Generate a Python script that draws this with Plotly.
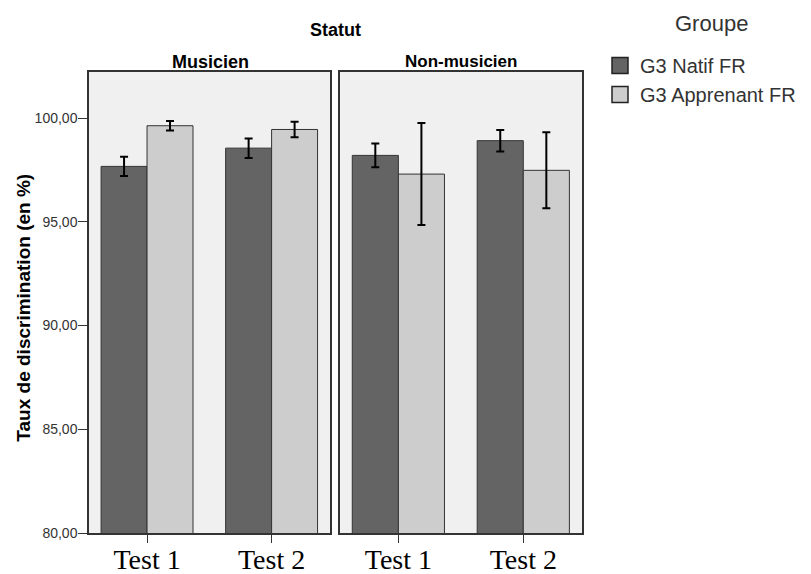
import plotly.graph_objects as go

tests = ["Test 1", "Test 2"]
groups = ["G3 Natif FR", "G3 Apprenant FR"]

musicien_natif = [97.67, 98.55]
musicien_natif_err = [0.46, 0.47]
musicien_appr = [99.63, 99.45]
musicien_appr_err = [0.23, 0.37]

nonmus_natif = [98.20, 98.91]
nonmus_natif_err = [0.57, 0.52]
nonmus_appr = [97.30, 97.48]
nonmus_appr_err = [2.46, 1.83]

y_ticks = [80, 85, 90, 95, 100]

dark = "#646464"
light = "#cdcdcd"
edge = "#333333"

# plot area in pixels (left, right, top, bottom) as in the original
L, R, T, B = 89, 581.7, 72.3, 533.3
W = R - L
H = B - T


def px_x(p):
    return (p - L) / W


def px_y(p):
    return (B - p) / H


def bar(y, err, color, xaxis, name):
    return go.Bar(
        x=tests,
        y=y,
        name=name,
        showlegend=False,
        xaxis=xaxis,
        yaxis="y" if xaxis == "x" else "y2",
        marker=dict(color=color, line=dict(color=edge, width=1)),
        error_y=dict(type="data", array=err, color="black", thickness=2, width=4),
    )


fig = go.Figure()
fig.add_trace(bar(musicien_natif, musicien_natif_err, dark, "x", groups[0]))
fig.add_trace(bar(musicien_appr, musicien_appr_err, light, "x", groups[1]))
fig.add_trace(bar(nonmus_natif, nonmus_natif_err, dark, "x2", groups[0]))
fig.add_trace(bar(nonmus_appr, nonmus_appr_err, light, "x2", groups[1]))

# legend proxies (bigger square symbols than the bar legend icon)
for name, color in zip(groups, [dark, light]):
    fig.add_trace(
        go.Scatter(
            x=[None],
            y=[None],
            mode="markers",
            name=name,
            marker=dict(symbol="square", size=16, color=color, line=dict(color="#222222", width=1.5)),
        )
    )

xcommon = dict(
    range=[-0.466, 1.47],
    showline=True,
    mirror=True,
    linecolor=edge,
    linewidth=1.5,
    ticks="outside",
    ticklen=8,
    tickcolor=edge,
    tickfont=dict(family="Liberation Serif", size=28, color="black"),
    ticklabelstandoff=-7,
    showgrid=False,
    automargin=False,
    fixedrange=True,
)

fig.update_layout(
    width=811,
    height=574,
    paper_bgcolor="white",
    plot_bgcolor="#f0f0f0",
    font=dict(family="Liberation Sans", color="black"),
    margin=dict(l=L, r=811 - R, t=T, b=574 - B),
    separators=",.",
    barmode="group",
    bargap=0.262,
    bargroupgap=0,
    xaxis=dict(domain=[0, px_x(330)], **xcommon),
    xaxis2=dict(domain=[px_x(340), 1], **xcommon),
    yaxis=dict(
        range=[80, 102.22],
        tickvals=y_ticks,
        tickformat=".2f",
        ticks="outside",
        ticklen=9,
        tickcolor=edge,
        tickfont=dict(size=14, color="#333333"),
        ticklabelstandoff=-2,
        showline=True,
        mirror=True,
        linecolor=edge,
        linewidth=1.5,
        showgrid=False,
        zeroline=False,
        automargin=False,
        fixedrange=True,
    ),
    yaxis2=dict(
        range=[80, 102.22],
        anchor="x2",
        showticklabels=False,
        showline=True,
        mirror=True,
        linecolor=edge,
        linewidth=1.5,
        showgrid=False,
        zeroline=False,
        automargin=False,
        fixedrange=True,
    ),
    legend=dict(
        xref="container",
        yref="container",
        x=600 / 811,
        y=1 - 46 / 574,
        xanchor="left",
        yanchor="top",
        font=dict(size=20, color="#333333"),
        itemclick=False,
        bgcolor="rgba(0,0,0,0)",
    ),
    annotations=[
        dict(text="Groupe", x=px_x(711), y=px_y(24), xref="paper", yref="paper",
             showarrow=False, font=dict(size=22, color="#333333"), xanchor="center", yanchor="middle"),
        dict(text="<b>Statut</b>", x=0.5, y=px_y(30), xref="paper", yref="paper",
             showarrow=False, font=dict(size=18), xanchor="center", yanchor="middle"),
        dict(text="<b>Musicien</b>", x=px_x(210), y=px_y(62), xref="paper", yref="paper",
             showarrow=False, font=dict(size=18), xanchor="center", yanchor="middle"),
        dict(text="<b>Non-musicien</b>", x=px_x(461), y=px_y(62), xref="paper", yref="paper",
             showarrow=False, font=dict(size=17), xanchor="center", yanchor="middle"),
        dict(text="<b>Taux de discrimination (en %)</b>", x=px_x(24), y=px_y(308),
             xref="paper", yref="paper", showarrow=False, textangle=-90,
             font=dict(size=19), xanchor="center", yanchor="middle"),
    ],
)

# the page body has a default 8px margin; drop it so the figure fills the window
fig.write_html(
    "out.html",
    config={"displayModeBar": False},
    post_script="document.body.style.margin = '0';",
)
